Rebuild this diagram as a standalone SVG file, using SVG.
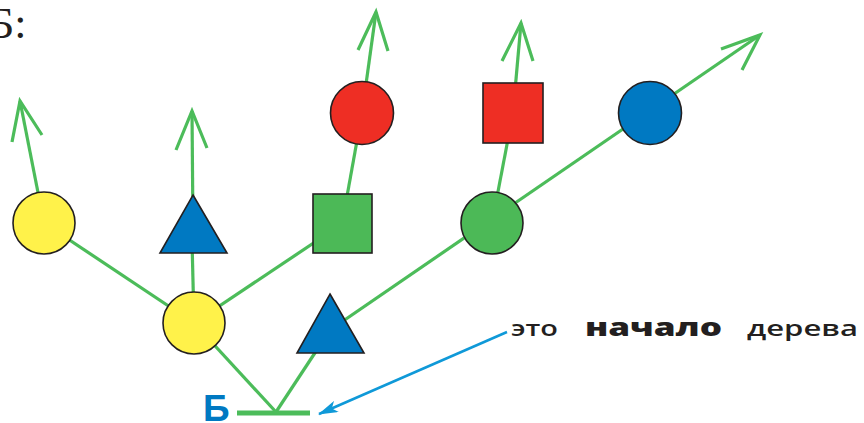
<svg xmlns="http://www.w3.org/2000/svg" width="864" height="423" viewBox="0 0 864 423">
<defs>
<style>
.ln{stroke:#4cbc5a;stroke-width:3.2;fill:none;stroke-linecap:butt}
.sh{stroke:#231f20;stroke-width:1.6}
.y{fill:#fff24a}.b{fill:#0079c2}.g{fill:#4cb957}.r{fill:#ee2e24}
.t{font-family:"Open Sans","Liberation Sans",sans-serif;fill:#231f20}
</style>
<marker id="bh" viewBox="0 0 20 12" refX="19" refY="6" markerWidth="20" markerHeight="12" markerUnits="userSpaceOnUse" orient="auto">
<path d="M0,0 L20,6 L0,12 L5,6 Z" fill="#0f99d8"/>
</marker>
</defs>
<text x="-11" y="38" font-family="Liberation Serif,serif" font-size="44" fill="#231f20">Б:</text>
<g id="connectors">
<line class="ln" x1="44" y1="223" x2="20" y2="101"/>
<polyline class="ln" points="12,142 20,101 42,135"/>
<line class="ln" x1="44" y1="223" x2="194" y2="323"/>
<line class="ln" x1="193" y1="230" x2="192" y2="111"/>
<polyline class="ln" points="176,150 192,111 207,148"/>
<line class="ln" x1="194" y1="323" x2="192" y2="240"/>
<line class="ln" x1="194" y1="323" x2="342" y2="224"/>
<line class="ln" x1="342" y1="224" x2="362" y2="113"/>
<line class="ln" x1="362" y1="113" x2="376" y2="12"/>
<polyline class="ln" points="358,50 376,12 388,51"/>
<line class="ln" x1="513" y1="113" x2="521" y2="23"/>
<polyline class="ln" points="502,61 521,23 533,61"/>
<line class="ln" x1="513" y1="113" x2="492" y2="223"/>
<line class="ln" x1="330" y1="330" x2="760" y2="35"/>
<polyline class="ln" points="721,49 760,35 742,70"/>
<line class="ln" x1="194" y1="323" x2="276" y2="412"/>
<line class="ln" x1="330" y1="330" x2="276" y2="412"/>
<line x1="237" y1="413" x2="310" y2="413" stroke="#4cbc5a" stroke-width="5"/>
<line x1="507" y1="332" x2="319" y2="414" stroke="#0f99d8" stroke-width="2.5" marker-end="url(#bh)"/>
</g>
<g id="n1"><circle class="sh y" cx="44" cy="223" r="31"/></g>
<g id="n2"><polygon class="sh b" points="193,195 227,253 160,253"/></g>
<g id="n3"><rect class="sh g" x="313" y="194" width="59" height="59"/></g>
<g id="n4"><circle class="sh r" cx="362" cy="113" r="31.5"/></g>
<g id="n5"><rect class="sh r" x="483" y="83" width="60" height="60"/></g>
<g id="n6"><circle class="sh b" cx="650" cy="113" r="31.5"/></g>
<g id="n7"><circle class="sh g" cx="492" cy="223" r="31"/></g>
<g id="n8"><circle class="sh y" cx="194" cy="323" r="31"/></g>
<g id="n9"><polygon class="sh b" points="330,294 364,353 297,353"/></g>
<g id="root"><text x="203" y="421" font-family="Liberation Sans,Arial,sans-serif" font-weight="bold" font-size="37" fill="#0079c2">Б</text></g>
<g id="label">
<text class="t" x="511" y="336" font-size="22" font-weight="600" textLength="47" lengthAdjust="spacingAndGlyphs">это</text>
<text class="t" x="585" y="336" font-size="25" font-weight="800" textLength="137" lengthAdjust="spacingAndGlyphs">начало</text>
<text class="t" x="747" y="336" font-size="22" font-weight="600" textLength="111" lengthAdjust="spacingAndGlyphs">дерева</text>
</g>
</svg>
